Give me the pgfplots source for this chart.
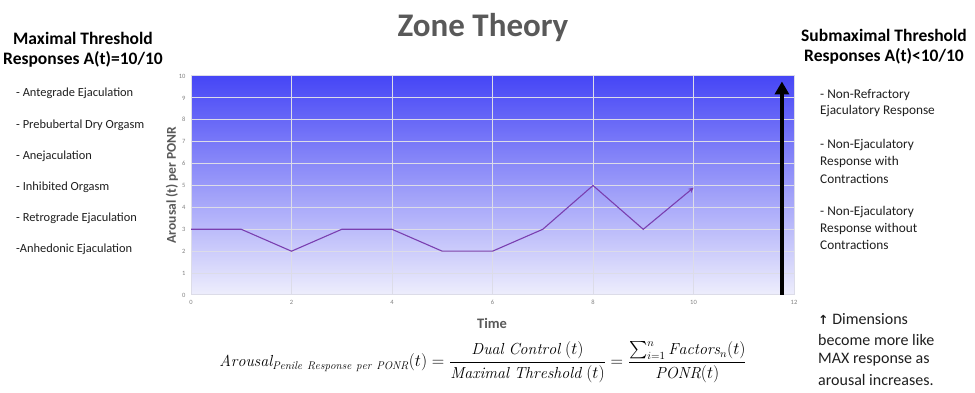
\documentclass[border=0pt]{standalone}
\usepackage{amsmath}
\usepackage{pgfplots}
\pgfplotsset{compat=1.18}
\usepackage{fontspec}
\usetikzlibrary{arrows.meta}
\newfontfamily\cf{Carlito}
\newfontfamily\symf{DejaVu Sans}
\definecolor{titlegray}{HTML}{595959}
\definecolor{topblue}{HTML}{4646F6}
\definecolor{botblue}{HTML}{EEEEFC}
\definecolor{linepurple}{HTML}{7A3FB0}
\definecolor{gridc}{HTML}{DCDCE8}
\definecolor{txt}{HTML}{1E1E1E}
\begin{document}
\begin{tikzpicture}[x=1pt,y=1pt]
\path[use as bounding box] (0,0) rectangle (975,393);
\begin{axis}[
  at={(191pt,98pt)}, anchor=south west, scale only axis,
  width=603pt, height=219pt,
  xmin=0, xmax=12, ymin=0, ymax=10,
  xtick={0,2,...,12}, ytick={0,1,...,10},
  xmajorgrids, ymajorgrids,
  major grid style={draw=gridc, line width=1pt},
  axis background/.style={top color=topblue, bottom color=botblue},
  axis line style={draw=gridc, line width=1pt},
  tick style={draw=none},
  /pgf/number format/assume math mode=true,
  tick label style={font=\cf\fontsize{6.5}{7}\selectfont, text=gray},
  xticklabel style={yshift=-2pt},
  yticklabel style={xshift=-2pt},
  clip=false,
]
\addplot[linepurple, line width=1.1pt, -{Stealth[length=5pt,width=5pt]}] coordinates {
  (0,3) (1,3) (2,2) (3,3) (4,3) (5,2) (6,2) (7,3) (8,5) (9,3) (10,4.9)
};
\addplot[black, line width=4pt, -{Triangle[length=13pt,width=14pt]}] coordinates {
  (11.76,0) (11.76,9.75)
};
\end{axis}
% axis labels
\node[font=\cf\bfseries\fontsize{13.5}{15}\selectfont, text=titlegray, rotate=90] at (172,208) {Arousal (t) per PONR};
\node[font=\cf\bfseries\fontsize{14.5}{16}\selectfont, text=titlegray] at (492,70) {Time};
% title
\node[font=\cf\bfseries\fontsize{33}{36}\selectfont, text=titlegray] at (483,365) {Zone Theory};
% left header
\node[font=\cf\bfseries\fontsize{17.5}{20}\selectfont, align=center, text=black] at (83,343) {Maximal Threshold\\Responses A(t)=10/10};
% left list
\begin{scope}[every node/.style={anchor=west, font=\cf\fontsize{12.4}{14}\selectfont, text=txt, inner sep=0pt}]
\node at (16,300) {- Antegrade Ejaculation};
\node at (16,268) {- Prebubertal Dry Orgasm};
\node at (16,237) {- Anejaculation};
\node at (16,206) {- Inhibited Orgasm};
\node at (16,175) {- Retrograde Ejaculation};
\node at (16,144) {-Anhedonic Ejaculation};
\end{scope}
% right header
\node[font=\cf\bfseries\fontsize{17.5}{20}\selectfont, align=center, text=black] at (884,346) {Submaximal Threshold\\Responses A(t)<10/10};
\begin{scope}[every node/.style={anchor=west, font=\cf\fontsize{13.3}{15}\selectfont, text=txt, inner sep=0pt}]
\node at (820,298) {- Non-Refractory};
\node at (820,282) {Ejaculatory Response};
\node at (820,248) {- Non-Ejaculatory};
\node at (820,231) {Response with};
\node at (820,214) {Contractions};
\node at (820,181) {- Non-Ejaculatory};
\node at (820,164) {Response without};
\node at (820,148) {Contractions};
\end{scope}
\begin{scope}[every node/.style={anchor=west, font=\cf\fontsize{16}{18}\selectfont, text=txt, inner sep=0pt}]
\node at (818,74) {{\symf\bfseries\fontsize{12.5}{14}\selectfont ↑} Dimensions};
\node at (818,53) {become more like};
\node at (818,33) {MAX response as};
\node at (818,13) {arousal increases.};
\end{scope}
% formula
\node[font=\fontsize{16}{19}\selectfont, text=black] at (483,31) {$\mathit{Arousal}_{\mathit{Penile\ Response\ per\ PONR}}(t) = \dfrac{\mathit{Dual\ Control}\ (t)}{\mathit{Maximal\ Threshold}\ (t)} = \dfrac{\sum_{i=1}^{n}\mathit{Factors}_n(t)}{\mathit{PONR}(t)}$};
\end{tikzpicture}
\end{document}
